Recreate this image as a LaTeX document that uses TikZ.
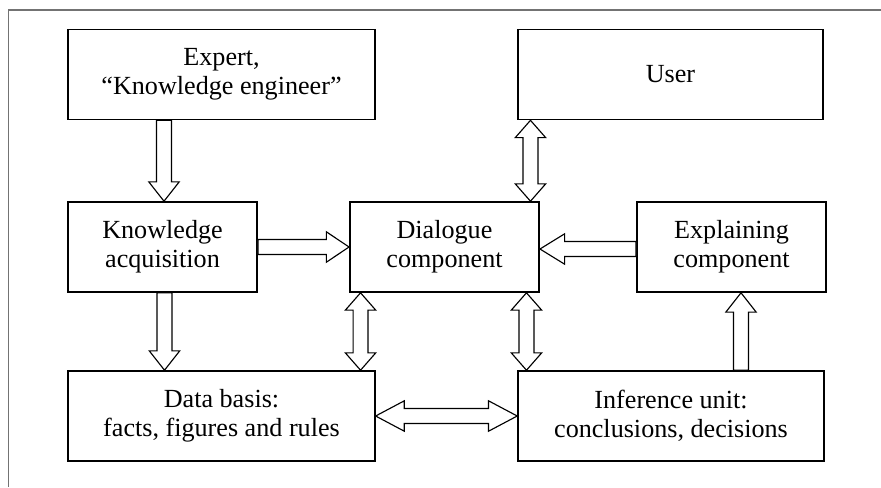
\documentclass[tikz,border=0pt]{standalone}
\usepackage{fontspec}
\setmainfont{Liberation Serif}
\usetikzlibrary{calc}
\newcommand\shw{5.6pt}
\newcommand\hhw{11.4pt}
\newcommand\fatarrow[3][15pt]{%
  \path let \p1=(#2), \p2=(#3), \n1={veclen(\x2-\x1,\y2-\y1)}, \n2={atan2(\y2-\y1,\x2-\x1)} in
    \pgfextra{\xdef\fal{\n1}\xdef\faa{\n2}\xdef\fax{\x1}\xdef\fay{\y1}};
  \draw[fat, shift={(\fax,\fay)}, rotate=\faa]
    (0pt,-\shw) -- ({\fal-#1},-\shw) -- ({\fal-#1},-\hhw) -- (\fal,0pt)
    -- ({\fal-#1},\hhw) -- ({\fal-#1},\shw) -- (0pt,\shw) -- cycle;
}
\newcommand\fatdarrow[3][13pt]{%
  \path let \p1=(#2), \p2=(#3), \n1={veclen(\x2-\x1,\y2-\y1)}, \n2={atan2(\y2-\y1,\x2-\x1)} in
    \pgfextra{\xdef\fal{\n1}\xdef\faa{\n2}\xdef\fax{\x1}\xdef\fay{\y1}};
  \draw[fat, shift={(\fax,\fay)}, rotate=\faa]
    (#1,-\shw) -- ({\fal-#1},-\shw) -- ({\fal-#1},-\hhw) -- (\fal,0pt)
    -- ({\fal-#1},\hhw) -- ({\fal-#1},\shw) -- (#1,\shw) -- (#1,\hhw)
    -- (0pt,0pt) -- (#1,-\hhw) -- cycle;
}
\begin{document}
\begin{tikzpicture}[x=0.75pt,y=-0.75pt,
  box/.style={draw=black, line width=1.2pt, inner sep=0pt, align=center,
    font=\fontsize{19.6}{21.5}\selectfont, minimum height=67.5pt},
  fat/.style={draw=black, line width=0.85pt, fill=white, line join=miter},
  frame/.style={draw=black!55, line width=1.3pt}]
\useasboundingbox (0,0) rectangle (881,487);
\draw[frame] (8.5,487) -- (8.5,10) -- (881,10);

\node[box, minimum width=230pt] (expert) at (221.5,74.5) {Expert,\\“Knowledge engineer”};
\node[box, minimum width=229pt] (user) at (670.5,74.5) {User};
\node[box, minimum width=142pt] (ka) at (162.5,247) {Knowledge\\acquisition};
\node[box, minimum width=142pt] (dialog) at (444.5,247) {Dialogue\\component};
\node[box, minimum width=142pt] (explain) at (731.5,247) {Explaining\\component};
\node[box, minimum width=230pt] (data) at (221.5,416) {Data basis:\\facts, figures and rules};
\node[box, minimum width=229.5pt] (infer) at (671,416) {Inference unit:\\conclusions, decisions};

\coordinate (a1) at ($(ka.north |- expert.south)+(1.5,0)$);
\coordinate (a1e) at ($(ka.north)+(1.5,0)$);
\fatarrow[14.5pt]{a1}{a1e}
\coordinate (a2) at ($(ka.south)+(2,0)$);
\coordinate (a2e) at ($(ka.south |- data.north)+(2,0)$);
\fatarrow[14.5pt]{a2}{a2e}
\fatarrow[17pt]{ka.east}{dialog.west}
\coordinate (a4) at ($(explain.west)+(0,2)$);
\coordinate (a4e) at ($(dialog.east)+(0,2)$);
\fatarrow[18.5pt]{a4}{a4e}
\coordinate (a9) at ($(explain.south |- infer.north)+(9.5,0)$);
\coordinate (a9e) at ($(explain.south)+(9.5,0)$);
\fatarrow[14.5pt]{a9}{a9e}

\coordinate (d1) at ($(dialog.north east)+(-9.5,0)$);
\coordinate (d1e) at (d1 |- user.south);
\fatdarrow{d1}{d1e}
\coordinate (d2) at ($(dialog.south west)+(11.5,0)$);
\coordinate (d2e) at (d2 |- data.north);
\fatdarrow{d2}{d2e}
\coordinate (d3) at ($(dialog.south east)+(-13.5,0)$);
\coordinate (d3e) at (d3 |- infer.north);
\fatdarrow{d3}{d3e}
\fatdarrow[21.5pt]{data.east}{infer.west}
\end{tikzpicture}
\end{document}
